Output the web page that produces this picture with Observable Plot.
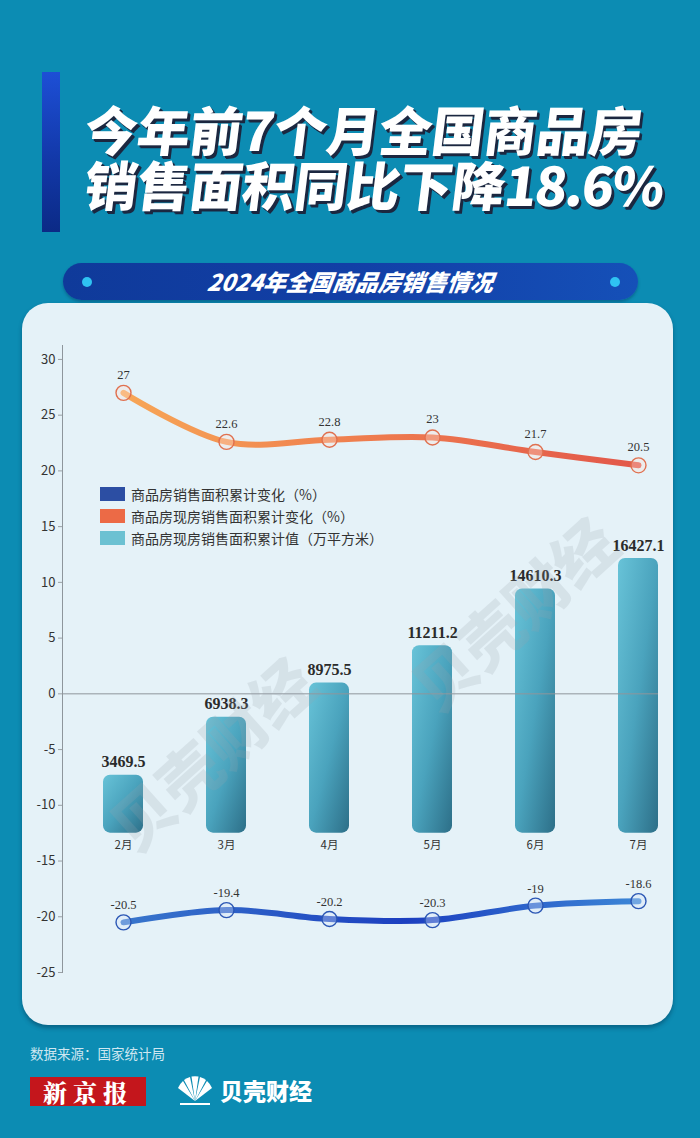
<!DOCTYPE html>
<html>
<head>
<meta charset="utf-8">
<script src="https://cdn.jsdelivr.net/npm/d3@7"></script>
<script src="https://cdn.jsdelivr.net/npm/@observablehq/plot@0.6"></script>
<style>
  html, body { margin:0; padding:0; }
  body { width:700px; height:1138px; background:#0c8cb3; position:relative; overflow:hidden; font-family:"Noto Sans CJK SC", "Noto Sans", sans-serif; }
  .abs { position:absolute; }
  #bar { left:42px; top:72px; width:18px; height:160px; background:linear-gradient(180deg,#1d4fd6 0%,#1238a8 55%,#0b2a86 100%); }
  .title { left:82px; color:#fff; font-weight:900; font-size:53px; line-height:55px; white-space:nowrap; letter-spacing:-0.5px;
           text-shadow: 3px 3px 0 #1b2740, 2px 2px 0 #1b2740; transform: skewX(-7deg); transform-origin: left bottom; }
  #pill { left:63px; top:263px; width:575px; height:37px; border-radius:19px; background:linear-gradient(90deg,#0f3a9a,#123fa6 50%,#1550b8); box-shadow:0 2px 3px rgba(0,40,80,0.35); }
  .dot { width:10px; height:10px; border-radius:5px; background:#2fc3f2; top:277px; }
  #subtitle { left:63px; width:575px; top:263px; height:37px; line-height:37px; text-align:center; color:#fff; font-weight:900; font-size:23px; font-style:italic; transform: skewX(-8deg); }
  #card { left:22px; top:303px; width:651px; height:722px; border-radius:26px; background:#e5f2f8; box-shadow:0 3px 4px rgba(0,50,80,0.45); }
  #chart { left:22px; top:303px; }
  .leg { left:100px; width:25px; height:14px; }
  .legt { left:131px; font-size:14px; color:#333; line-height:16px; white-space:nowrap; }
  .wm { color:#9aa4ad; opacity:0.2; font-size:62px; font-weight:900; white-space:nowrap; transform-origin:left center; pointer-events:none; }
  #source { left:30px; top:1043px; font-size:13.5px; color:#cfe7f1; }
  #xjb { left:30px; top:1077px; width:116px; height:29px; background:#c4161c; color:#fff; font-family:"Noto Serif CJK SC","Liberation Serif",serif; font-weight:900; font-size:24px; line-height:29px; text-align:center; letter-spacing:6px; }
  #bk { left:220px; top:1076px; color:#fff; font-weight:900; font-size:23px; line-height:29px; }
</style>
</head>
<body>
<div class="abs" id="bar"></div>
<div class="abs title" style="top:101px;">今年前7个月全国商品房</div>
<div class="abs title" style="top:156px;">销售面积同比下降<span style="letter-spacing:-2px">18.6%</span></div>
<div class="abs" id="pill"></div>
<div class="abs dot" style="left:82px;"></div>
<div class="abs dot" style="left:610px;"></div>
<div class="abs" id="subtitle">2024年全国商品房销售情况</div>
<div class="abs" id="card"></div>
<div class="abs" id="chart"></div>
<div id="legend"></div>
<div class="abs wm" style="left:118px; top:790px; transform:rotate(-42deg);">贝壳财经</div>
<div class="abs wm" style="left:420px; top:650px; transform:rotate(-42deg);">贝壳财经</div>
<div class="abs" id="source">数据来源：国家统计局</div>
<div class="abs" id="xjb">新京报</div>
<svg class="abs" style="left:174px; top:1074px;" width="42" height="34" viewBox="0 0 42 34">
  <g fill="#ffffff">
    <path d="M21 27 L4 14 A19 19 0 0 1 9 7 Z"/>
    <path d="M21 27 L10 6 A19 19 0 0 1 16 3 Z"/>
    <path d="M21 27 L17.5 2.5 A19 19 0 0 1 24.5 2.5 Z"/>
    <path d="M21 27 L26 3 A19 19 0 0 1 32 6 Z"/>
    <path d="M21 27 L33 7 A19 19 0 0 1 38 14 Z"/>
    <rect x="6" y="29" width="30" height="2"/>
  </g>
</svg>
<div class="abs" id="bk">贝壳财经</div>
<script>
// ---- data ----
const months = ["2月", "3月", "4月", "5月", "6月", "7月"];
const salesArea = [3469.5, 6938.3, 8975.5, 11211.2, 14610.3, 16427.1];      // 商品房现房销售面积累计值（万平方米）
const existingChange = [27, 22.6, 22.8, 23, 21.7, 20.5];                     // 商品房现房销售面积累计变化（%）
const totalChange = [-20.5, -19.4, -20.2, -20.3, -19, -18.6];               // 商品房销售面积累计变化（%）
const yTicks = [-25, -20, -15, -10, -5, 0, 5, 10, 15, 20, 25, 30];
const legendLabels = ["商品房销售面积累计变化（%）", "商品房现房销售面积累计变化（%）", "商品房现房销售面积累计值（万平方米）"];
const legendColors = ["#2c4ea3", "#ec6a46", "#6cc1d2"];

// secondary (bar) axis mapped onto the left axis
const barBase = -12.5;
const barK = 0.0015;
const toLeft = v => barBase + v * barK;

const bars = months.map((m, i) => ({month: m, value: salesArea[i]}));
const orange = months.map((m, i) => ({month: m, v: existingChange[i]}));
const blue = months.map((m, i) => ({month: m, v: totalChange[i]}));

const serif = "'Liberation Serif', 'DejaVu Serif', serif";

const chart = Plot.plot({
  width: 651,
  height: 722,
  marginLeft: 40,
  marginRight: 15,
  marginTop: 42,
  marginBottom: 53,
  style: {background: "transparent", fontFamily: "'Noto Sans CJK SC', sans-serif", color: "#333", overflow: "visible"},
  x: {type: "band", domain: months, range: [79, 638], paddingInner: 0.615, paddingOuter: 0, axis: null, label: null},
  y: {domain: [-25, 31.25], axis: null, label: null},
  marks: [
    Plot.frame({anchor: "left", stroke: "#8e969c"}),
    Plot.axisY({ticks: yTicks, tickSize: 4, tickPadding: 3, fontSize: 13, tickFormat: d => String(d), stroke: "#9aa0a5", fill: "#333", label: null}),
    Plot.barY(bars, {x: "month", y1: () => barBase, y2: d => toLeft(d.value), fill: "url(#barGrad)", rx: 7}),
    Plot.ruleY([0], {stroke: "#8e969c", strokeWidth: 1}),
    Plot.text(bars, {x: "month", y: d => toLeft(d.value), text: d => String(d.value), dy: -13, fontFamily: serif, fontWeight: "bold", fontSize: 16, fill: "#2b2b2b"}),
    Plot.text(months, {x: d => d, y: () => barBase, dy: 12, fontSize: 11.5, fill: "#333"}),
    Plot.line(orange, {x: "month", y: "v", curve: "catmull-rom", stroke: "url(#orangeGrad)", strokeWidth: 6, strokeLinecap: "round"}),
    Plot.dot(orange, {x: "month", y: "v", r: 7.5, stroke: "#e0704f", strokeWidth: 1.4, fill: "#fde3d6", fillOpacity: 0.35}),
    Plot.text(orange, {x: "month", y: "v", text: d => String(d.v), dy: -18, fontFamily: serif, fontSize: 12.5, fill: "#333"}),
    Plot.line(blue, {x: "month", y: "v", curve: "catmull-rom", stroke: "url(#blueGrad)", strokeWidth: 6, strokeLinecap: "round"}),
    Plot.dot(blue, {x: "month", y: "v", r: 7.5, stroke: "#2a56b4", strokeWidth: 1.4, fill: "#d6e4fa", fillOpacity: 0.35}),
    Plot.text(blue, {x: "month", y: "v", text: d => String(d.v), dy: -17, fontFamily: serif, fontSize: 12.5, fill: "#333"})
  ]
});

d3.select(chart).insert("defs", ":first-child").html(`
  <linearGradient id="barGrad" x1="0" y1="0" x2="1" y2="1">
    <stop offset="0" stop-color="#68c3d8"/>
    <stop offset="0.5" stop-color="#4aa3bd"/>
    <stop offset="1" stop-color="#2d6f88"/>
  </linearGradient>
  <linearGradient id="orangeGrad" x1="0" y1="0" x2="1" y2="0">
    <stop offset="0" stop-color="#f7a656"/>
    <stop offset="0.5" stop-color="#ee7a4e"/>
    <stop offset="1" stop-color="#e2574a"/>
  </linearGradient>
  <linearGradient id="blueGrad" x1="0" y1="0" x2="1" y2="0">
    <stop offset="0" stop-color="#3876cc"/>
    <stop offset="0.55" stop-color="#1c3fc0"/>
    <stop offset="1" stop-color="#3c86d6"/>
  </linearGradient>`);

document.getElementById("chart").appendChild(chart);

// legend (inside plot area, as in the reference)
const legend = document.getElementById("legend");
legendLabels.forEach((label, i) => {
  const top = 487 + i * 22;
  const sw = document.createElement("div");
  sw.className = "abs leg";
  sw.style.top = top + "px";
  sw.style.background = legendColors[i];
  legend.appendChild(sw);
  const t = document.createElement("div");
  t.className = "abs legt";
  t.style.top = (top - 1) + "px";
  t.textContent = label;
  legend.appendChild(t);
});
</script>
</body>
</html>
